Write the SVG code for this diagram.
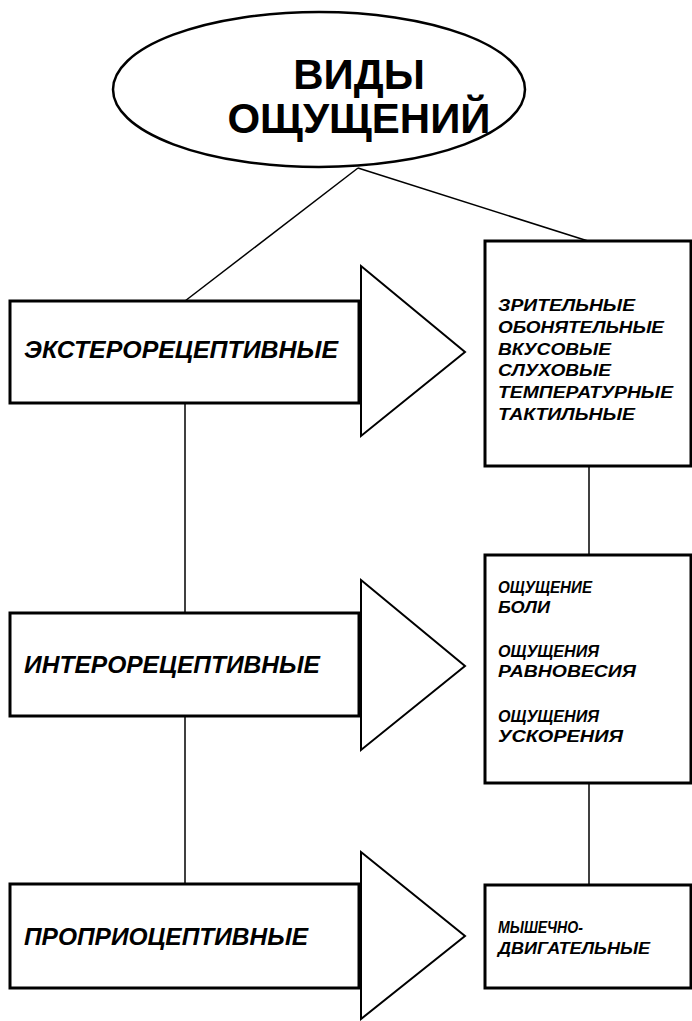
<svg xmlns="http://www.w3.org/2000/svg" width="692" height="1021" viewBox="0 0 692 1021">
<style>
.box{fill:#fff;stroke:#000;stroke-width:3}
.tri{fill:#fff;stroke:#000;stroke-width:2;stroke-linejoin:miter}
.ln{stroke:#000;stroke-width:1.5;fill:none}
.title{font-family:"Liberation Sans",Arial,sans-serif;font-weight:bold;font-size:42px;text-anchor:middle}
.lab{font-family:"Liberation Sans",Arial,sans-serif;font-weight:bold;font-style:italic;font-size:23px}
.sm{font-family:"Liberation Sans",Arial,sans-serif;font-weight:bold;font-style:italic;font-size:16px}
</style>
<rect width="692" height="1021" fill="#fff"/>
<g id="connectors">
<line class="ln" x1="358" y1="168" x2="185" y2="301"/>
<line class="ln" x1="358" y1="168" x2="588" y2="241"/>
<line class="ln" x1="185" y1="403" x2="185" y2="613"/>
<line class="ln" x1="185" y1="716" x2="185" y2="884"/>
<line class="ln" x1="589" y1="466" x2="589" y2="555"/>
<line class="ln" x1="589" y1="783" x2="589" y2="885"/>
</g>
<g id="root">
<ellipse cx="319" cy="89.5" rx="206" ry="77.5" fill="#fff" stroke="#000" stroke-width="2.5"/>
<text class="title" x="359" y="89">ВИДЫ</text>
<text class="title" x="359" y="133">ОЩУЩЕНИЙ</text>
</g>
<g id="extero">
<rect class="box" x="10" y="301" width="349" height="102"/>
<polygon class="tri" points="361,266 465,352 361,436"/>
<text class="lab" x="24" y="358" textLength="314" lengthAdjust="spacingAndGlyphs">ЭКСТЕРОРЕЦЕПТИВНЫЕ</text>
</g>
<g id="extero-list">
<rect class="box" x="485" y="241" width="206" height="225"/>
<text class="sm" x="498" y="311" textLength="137" lengthAdjust="spacingAndGlyphs">ЗРИТЕЛЬНЫЕ</text>
<text class="sm" x="498" y="333" textLength="166" lengthAdjust="spacingAndGlyphs">ОБОНЯТЕЛЬНЫЕ</text>
<text class="sm" x="498" y="355" textLength="113" lengthAdjust="spacingAndGlyphs">ВКУСОВЫЕ</text>
<text class="sm" x="498" y="376" textLength="113" lengthAdjust="spacingAndGlyphs">СЛУХОВЫЕ</text>
<text class="sm" x="498" y="398" textLength="175" lengthAdjust="spacingAndGlyphs">ТЕМПЕРАТУРНЫЕ</text>
<text class="sm" x="498" y="420" textLength="137" lengthAdjust="spacingAndGlyphs">ТАКТИЛЬНЫЕ</text>
</g>
<g id="intero">
<rect class="box" x="10" y="613" width="349" height="103"/>
<polygon class="tri" points="361,580 465,666 361,750"/>
<text class="lab" x="24" y="673" textLength="296" lengthAdjust="spacingAndGlyphs">ИНТЕРОРЕЦЕПТИВНЫЕ</text>
</g>
<g id="intero-list">
<rect class="box" x="485" y="555" width="206" height="228"/>
<text class="sm" x="498" y="593" textLength="94" lengthAdjust="spacingAndGlyphs">ОЩУЩЕНИЕ</text>
<text class="sm" x="498" y="613" textLength="52" lengthAdjust="spacingAndGlyphs">БОЛИ</text>
<text class="sm" x="498" y="657" textLength="101" lengthAdjust="spacingAndGlyphs">ОЩУЩЕНИЯ</text>
<text class="sm" x="498" y="677" textLength="138" lengthAdjust="spacingAndGlyphs">РАВНОВЕСИЯ</text>
<text class="sm" x="498" y="722" textLength="101" lengthAdjust="spacingAndGlyphs">ОЩУЩЕНИЯ</text>
<text class="sm" x="498" y="742" textLength="125" lengthAdjust="spacingAndGlyphs">УСКОРЕНИЯ</text>
</g>
<g id="proprio">
<rect class="box" x="10" y="884" width="349" height="104"/>
<polygon class="tri" points="361,852 465,936 361,1019"/>
<text class="lab" x="24" y="945" textLength="284" lengthAdjust="spacingAndGlyphs">ПРОПРИОЦЕПТИВНЫЕ</text>
</g>
<g id="proprio-list">
<rect class="box" x="485" y="885" width="206" height="103"/>
<text class="sm" x="498" y="933" textLength="85" lengthAdjust="spacingAndGlyphs">МЫШЕЧНО-</text>
<text class="sm" x="498" y="954" textLength="152" lengthAdjust="spacingAndGlyphs">ДВИГАТЕЛЬНЫЕ</text>
</g>
</svg>
